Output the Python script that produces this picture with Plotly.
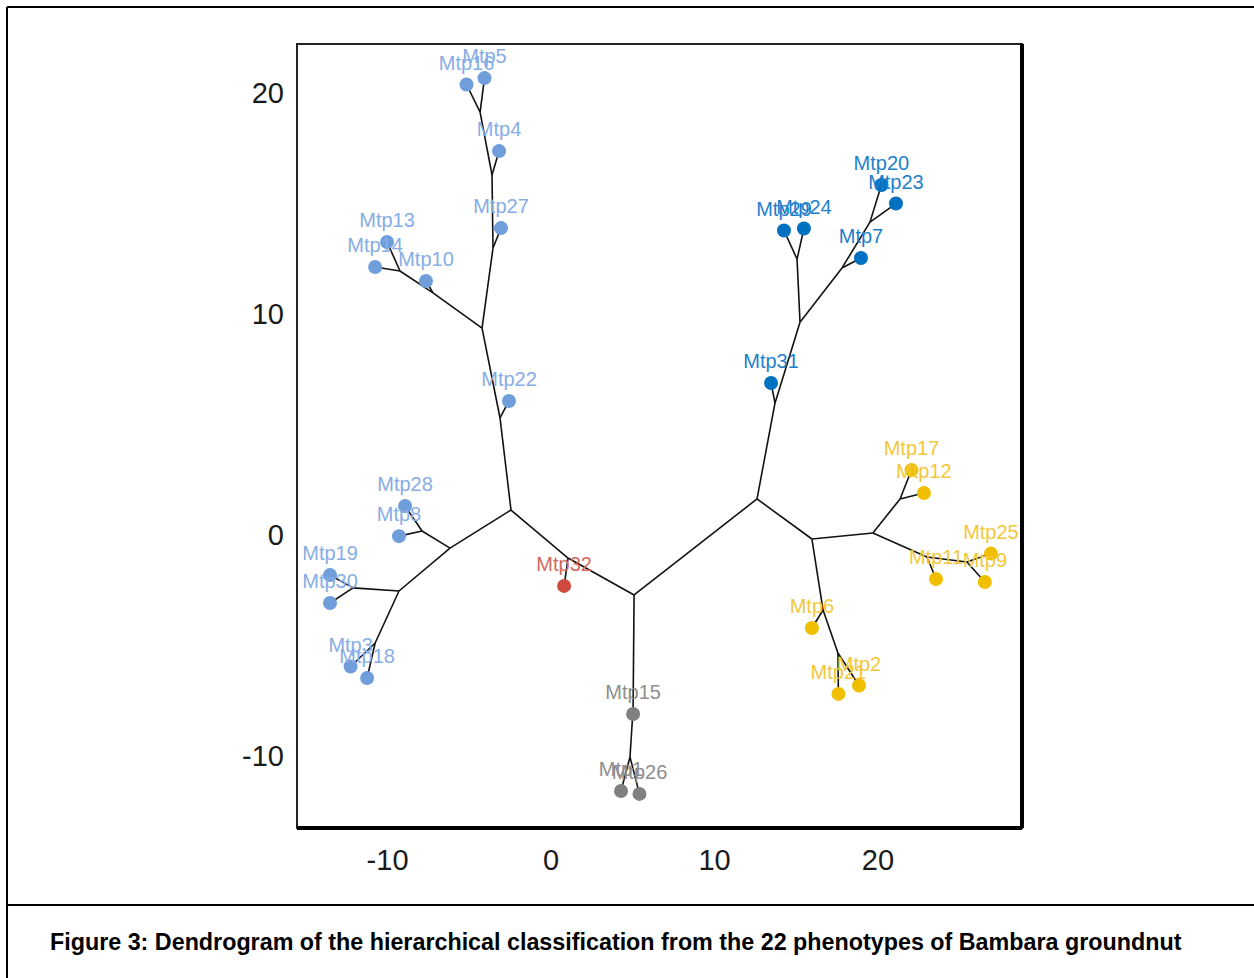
import plotly.graph_objects as go

# ---------------- data ----------------
leaf_names = ["Mtp16", "Mtp5", "Mtp4", "Mtp27", "Mtp13", "Mtp14", "Mtp10", "Mtp22",
              "Mtp28", "Mtp8", "Mtp19", "Mtp30", "Mtp3", "Mtp18",
              "Mtp32",
              "Mtp15", "Mtp1", "Mtp26",
              "Mtp29", "Mtp24", "Mtp20", "Mtp23", "Mtp7", "Mtp31",
              "Mtp17", "Mtp12", "Mtp25", "Mtp9", "Mtp11", "Mtp6", "Mtp21", "Mtp2"]
leaf_x = [-5.17, -4.07, -3.18, -3.06, -10.03, -10.76, -7.65, -2.57,
          -8.93, -9.30, -13.52, -13.52, -12.26, -11.25,
          0.80,
          5.02, 4.28, 5.41,
          14.25, 15.47, 20.21, 21.10, 18.96, 13.46,
          22.05, 22.81, 26.91, 26.54, 23.55, 15.96, 17.58, 18.84]
leaf_y = [20.36, 20.65, 17.35, 13.87, 13.24, 12.11, 11.48, 6.06,
          1.31, -0.05, -1.81, -3.07, -5.94, -6.46,
          -2.30,
          -8.09, -11.57, -11.70,
          13.76, 13.85, 15.82, 14.98, 12.52, 6.87,
          2.94, 1.90, -0.84, -2.12, -1.99, -4.20, -7.18, -6.80]
leaf_group = [1] * 14 + [2] + [3] * 3 + [4] * 6 + [5] * 8

node_names = ["A", "P32", "L0", "L22", "L1", "L27", "L4", "L5", "L10", "L13",
              "LL", "L28", "LL2", "L19", "L3", "B15", "B1",
              "R", "R31", "R1", "R29", "R7", "R20", "RB", "R6", "R21", "RC",
              "R17", "R11", "R25"]
node_x = [5.08, 1.04, -2.45, -3.12, -4.22, -3.55, -3.61, -4.34, -7.22, -9.24,
          -6.18, -7.89, -9.30, -12.11, -10.76, 5.02, 4.83,
          12.60, 13.70, 15.23, 15.05, 17.80, 19.51, 15.96, 16.64, 17.55, 19.69,
          21.35, 23.00, 25.44]
node_y = [-2.71, -1.04, 1.13, 5.29, 9.35, 12.97, 16.27, 19.11, 10.94, 11.93,
          -0.59, 0.18, -2.53, -2.39, -4.88, -7.85, -10.03,
          1.63, 5.96, 9.62, 12.47, 12.07, 14.14, -0.18, -3.39, -5.33, 0.09,
          1.63, -0.99, -1.22]

edges = [("A", "P32"), ("P32", "L0"), ("P32", "Mtp32"), ("A", "B15"), ("B15", "Mtp15"),
         ("B15", "B1"), ("B1", "Mtp1"), ("B1", "Mtp26"), ("A", "R"),
         ("L0", "L22"), ("L22", "Mtp22"), ("L22", "L1"), ("L1", "L27"), ("L27", "Mtp27"),
         ("L27", "L4"), ("L4", "Mtp4"), ("L4", "L5"), ("L5", "Mtp16"), ("L5", "Mtp5"),
         ("L1", "L10"), ("L10", "Mtp10"), ("L10", "L13"), ("L13", "Mtp13"), ("L13", "Mtp14"),
         ("L0", "LL"), ("LL", "L28"), ("L28", "Mtp28"), ("L28", "Mtp8"), ("LL", "LL2"),
         ("LL2", "L19"), ("L19", "Mtp19"), ("L19", "Mtp30"), ("LL2", "L3"), ("L3", "Mtp3"),
         ("L3", "Mtp18"),
         ("R", "R31"), ("R31", "Mtp31"), ("R31", "R1"), ("R1", "R29"), ("R29", "Mtp29"),
         ("R29", "Mtp24"), ("R1", "R7"), ("R7", "Mtp7"), ("R7", "R20"), ("R20", "Mtp20"),
         ("R20", "Mtp23"),
         ("R", "RB"), ("RB", "R6"), ("R6", "Mtp6"), ("R6", "R21"), ("R21", "Mtp21"),
         ("R21", "Mtp2"), ("RB", "RC"), ("RC", "R17"), ("R17", "Mtp17"), ("R17", "Mtp12"),
         ("RC", "R11"), ("R11", "Mtp11"), ("R11", "R25"), ("R25", "Mtp25"), ("R25", "Mtp9")]

group_colors = {1: "#6F9EDB", 2: "#CC4B3E", 3: "#808080", 4: "#0070C0", 5: "#F0C000"}
label_colors = {1: "#86ADE6", 2: "#D46A60", 3: "#8E8E8E", 4: "#1F7FCC", 5: "#F2C83A"}

x_ticks = [-10, 0, 10, 20]
x_ticktext = ["-10", "0", "10", "20"]
y_ticks = [-10, 0, 10, 20]
y_ticktext = ["-10", "0", "10", "20"]
x_range = [-15.54, 28.81]
y_range = [-13.24, 22.19]
caption = "Figure 3: Dendrogram of the hierarchical classification from the 22 phenotypes of Bambara groundnut"

# ---------------- layout geometry ----------------
W, H = 1254, 978
ML, MR, MT, MB = 297, 232, 44, 150
PW, PH = W - ML - MR, H - MT - MB


def px2paper(px, py):
    return (px - ML) / PW, (H - MB - py) / PH


# ---------------- build ----------------
pos = {n: (x, y) for n, x, y in zip(leaf_names, leaf_x, leaf_y)}
pos.update({n: (x, y) for n, x, y in zip(node_names, node_x, node_y)})

ex, ey = [], []
for a, b in edges:
    ex += [pos[a][0], pos[b][0], None]
    ey += [pos[a][1], pos[b][1], None]

fig = go.Figure()
fig.add_trace(go.Scatter(x=ex, y=ey, mode="lines",
                         line=dict(color="#111111", width=1.6),
                         hoverinfo="skip", showlegend=False))

for g in [1, 2, 3, 4, 5]:
    idx = [i for i, gg in enumerate(leaf_group) if gg == g]
    fig.add_trace(go.Scatter(
        x=[leaf_x[i] for i in idx], y=[leaf_y[i] for i in idx],
        text=[leaf_names[i] for i in idx],
        mode="markers+text", textposition="top center",
        marker=dict(color=group_colors[g], size=14, line=dict(width=0)),
        textfont=dict(color=label_colors[g], size=20, family="Liberation Sans, Arial"),
        showlegend=False))

shapes = [
    dict(type="rect", xref="paper", yref="paper", x0=0, y0=0, x1=1, y1=1,
         line=dict(color="#222222", width=2)),
    dict(type="line", xref="paper", yref="paper", x0=0, y0=0, x1=1, y1=0,
         line=dict(color="black", width=4)),
    dict(type="line", xref="paper", yref="paper", x0=1, y0=0, x1=1, y1=1,
         line=dict(color="black", width=4)),
]
# outer figure frame
a0 = px2paper(7, 7)
a1 = px2paper(W, 7)
b0 = px2paper(7, H)
c0 = px2paper(7, 905)
c1 = px2paper(W, 905)
shapes += [
    dict(type="line", xref="paper", yref="paper", x0=a0[0], y0=a0[1], x1=a1[0], y1=a1[1],
         line=dict(color="black", width=2)),
    dict(type="line", xref="paper", yref="paper", x0=a0[0], y0=a0[1], x1=b0[0], y1=b0[1],
         line=dict(color="black", width=2)),
    dict(type="line", xref="paper", yref="paper", x0=c0[0], y0=c0[1], x1=c1[0], y1=c1[1],
         line=dict(color="black", width=2)),
]

cap = px2paper(48, 942)
fig.update_layout(
    width=W, height=H, autosize=False,
    margin=dict(l=ML, r=MR, t=MT, b=MB, pad=0),
    paper_bgcolor="white", plot_bgcolor="white",
    shapes=shapes,
    annotations=[dict(text="<b>" + caption + "</b>", xref="paper", yref="paper",
                      x=cap[0], y=cap[1], xanchor="left", yanchor="middle",
                      showarrow=False,
                      font=dict(family="Liberation Sans, Arial", size=23.3, color="black"))],
    xaxis=dict(range=x_range, tickvals=x_ticks, ticktext=x_ticktext, showgrid=False,
               zeroline=False, showline=False, ticks="", ticklabelstandoff=12,
               tickfont=dict(family="Liberation Sans, Arial", size=29, color="#1a1a1a")),
    yaxis=dict(range=y_range, tickvals=y_ticks, ticktext=y_ticktext, showgrid=False,
               zeroline=False, showline=False, ticks="", ticklabelstandoff=12,
               tickfont=dict(family="Liberation Sans, Arial", size=29, color="#1a1a1a")),
)

fig.write_html("out.html", config={"displayModeBar": False},
               post_script="document.body.style.margin='0';")
